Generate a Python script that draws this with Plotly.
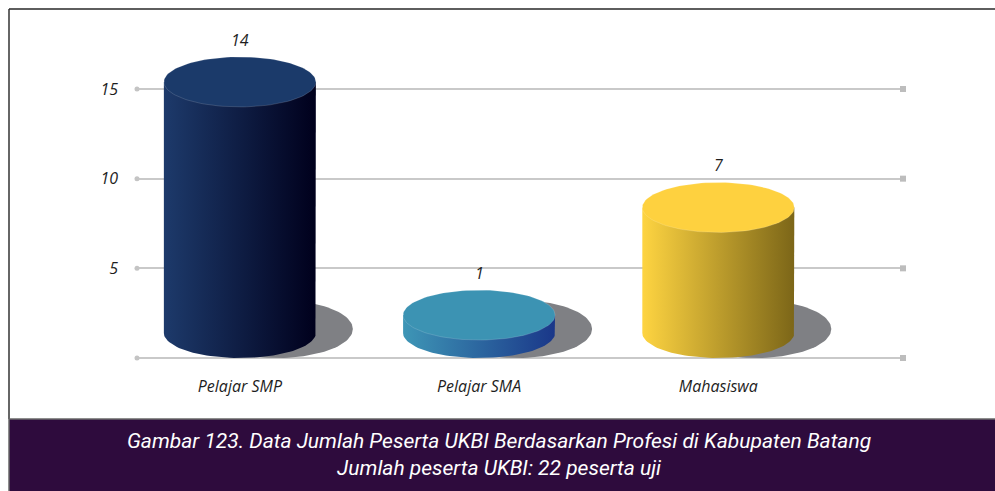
import numpy as np
import plotly.graph_objects as go

# Data
categories = ["Pelajar SMP", "Pelajar SMA", "Mahasiswa"]
values = [14, 1, 7]
y_ticks = [5, 10, 15]
caption_line1 = "Gambar 123. Data Jumlah Peserta UKBI Berdasarkan Profesi di Kabupaten Batang"
caption_line2 = "Jumlah peserta UKBI: 22 peserta uji"

# Styling for each cylinder: (top colour, gradient left, gradient right)
palette = [
    ("#1b3a6a", "#1d3a6b", "#00001c"),
    ("#3c93b3", "#3e96b6", "#1a3789"),
    ("#fed13f", "#fed441", "#7c6618"),
]
shadow_color = "#7f8084"
grid_color = "#c9c9c9"
text_color = "#1e1e1e"

W, H = 995, 491
px_left, px_right = 137, 903
px_top, px_bottom = 20, 370
y0_px, y15_px = 358, 89
ppu_y = (y0_px - y15_px) / 15.0
y_range = [(y0_px - px_bottom) / ppu_y, (y0_px - px_top) / ppu_y]
x_range = [-0.43, 2.772]
ppu_x = (px_right - px_left) / (x_range[1] - x_range[0])

half_w = 76 / ppu_x          # cylinder radius (x units)
half_e = 25 / ppu_y          # ellipse half-height (y units)
shadow_e = 29 / ppu_y
shadow_dx = 37 / ppu_x

fig = go.Figure()
t_full = np.linspace(0, 2 * np.pi, 120)
t_half = np.linspace(0, np.pi, 60)

for i, (cat, v) in enumerate(zip(categories, values)):
    top_c, g_left, g_right = palette[i]
    xc = i
    # floor shadow
    fig.add_trace(go.Scatter(
        x=xc + shadow_dx + half_w * np.cos(t_full),
        y=shadow_e + shadow_e * np.sin(t_full),
        fill="toself", fillcolor=shadow_color, mode="lines",
        line=dict(width=0), hoverinfo="skip", showlegend=False))
    # cylinder body with front arc at the base
    bx = np.concatenate([[xc - half_w, xc - half_w, xc + half_w, xc + half_w],
                         xc + half_w * np.cos(t_half)])
    by = np.concatenate([[half_e, v + half_e, v + half_e, half_e],
                         half_e - half_e * np.sin(t_half)])
    fig.add_trace(go.Scatter(
        x=bx, y=by, fill="toself", mode="lines", line=dict(width=0),
        fillgradient=dict(type="horizontal",
                          colorscale=[[0, g_left], [1, g_right]]),
        hoverinfo="skip", showlegend=False))
    # top face
    fig.add_trace(go.Scatter(
        x=xc + half_w * np.cos(t_full),
        y=v + half_e + half_e * np.sin(t_full),
        fill="toself", fillcolor=top_c, mode="lines",
        line=dict(width=0.6, color="rgba(255,255,255,0.25)"),
        hoverinfo="skip", showlegend=False))
    # value label
    fig.add_annotation(x=xc, y=v + 2 * half_e, text=str(v), showarrow=False,
                       yanchor="bottom", yshift=4,
                       font=dict(family="Open Sans", size=16, color=text_color,
                                 style="italic"))

# gridline end markers
fig.add_trace(go.Scatter(
    x=[x_range[0]] * 4, y=[0] + y_ticks, mode="markers",
    marker=dict(symbol="circle", size=5, color="#c4c4c4"),
    cliponaxis=False, hoverinfo="skip", showlegend=False))
fig.add_trace(go.Scatter(
    x=[x_range[1]] * 4, y=[0] + y_ticks, mode="markers",
    marker=dict(symbol="square", size=6, color="#bdbdbd"),
    cliponaxis=False, hoverinfo="skip", showlegend=False))

# frame and caption band
fig.add_shape(type="line", xref="paper", yref="paper",
              x0=9 / W, x1=1, y0=1 - 9 / H, y1=1 - 9 / H,
              line=dict(color="#5e5e5e", width=2), layer="below")
fig.add_shape(type="line", xref="paper", yref="paper",
              x0=9 / W, x1=9 / W, y0=1 - 9 / H, y1=1 - 419 / H,
              line=dict(color="#333333", width=1.5), layer="below")
fig.add_shape(type="rect", xref="paper", yref="paper",
              x0=9 / W, x1=1.01, y0=-0.01, y1=1 - 419 / H,
              fillcolor="#2e0b3d", line=dict(color="#6a6a6a", width=1.5),
              layer="below")
fig.add_annotation(xref="paper", yref="paper", x=(115 + 883) / 2 / W,
                   y=1 - 454 / H, xanchor="center", yanchor="middle",
                   showarrow=False, align="center",
                   text=caption_line1 + "<br>" + caption_line2,
                   font=dict(family="Roboto, Open Sans",
                             size=21, color="white", style="italic"))

fig.update_layout(
    width=W, height=H, margin=dict(l=0, r=0, t=0, b=0),
    paper_bgcolor="white", plot_bgcolor="rgba(0,0,0,0)",
    font=dict(family="Open Sans", color=text_color),
    xaxis=dict(domain=[px_left / W, px_right / W], range=x_range,
               tickvals=list(range(len(categories))), ticktext=categories,
               showgrid=False, zeroline=False, showline=False,
               ticks="", ticklabelstandoff=5, automargin=False,
               tickfont=dict(size=16, style="italic", color=text_color)),
    yaxis=dict(domain=[1 - px_bottom / H, 1 - px_top / H], range=y_range,
               tickvals=y_ticks, showgrid=True, gridcolor=grid_color,
               gridwidth=1.5, zeroline=True, zerolinecolor=grid_color,
               zerolinewidth=1.5, showline=False, ticks="",
               ticklabelstandoff=18, automargin=False,
               tickfont=dict(size=16, style="italic", color=text_color)),
)

fig.write_html("out.html")
